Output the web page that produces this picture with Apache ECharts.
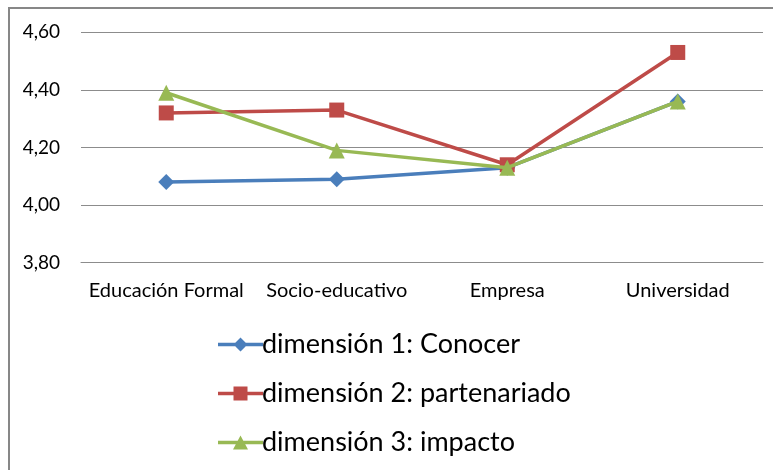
<!DOCTYPE html>
<html>
<head>
<meta charset="utf-8">
<script src="https://cdn.jsdelivr.net/npm/echarts@6/dist/echarts.min.js"></script>
<style>
  html, body { margin: 0; padding: 0; background: #fff; }
  #chart { width: 773px; height: 470px; }
</style>
</head>
<body>
<div id="chart"></div>
<script>
// Categorías del eje X
const categorias = ['Educación Formal', 'Socio-educativo', 'Empresa', 'Universidad'];

// Medias por dimensión
const dimension1 = [4.08, 4.09, 4.13, 4.36];
const dimension2 = [4.32, 4.33, 4.14, 4.53];
const dimension3 = [4.39, 4.19, 4.13, 4.36];

const nombres = ['dimensión 1: Conocer', 'dimensión 2: partenariado', 'dimensión 3: impacto'];
const colores = ['#4a7ebb', '#be4b48', '#98b954'];
const simbolos = ['diamond', 'rect', 'triangle'];

// Iconos de leyenda: trazo grueso con el marcador en el centro (caja 45x14)
const barra = 'M0 5.25 H45 V8.75 H0 Z ';
const iconos = [
  'path://' + barra + 'M22.5 0 L29.5 7 L22.5 14 L15.5 7 Z',
  'path://' + barra + 'M15.5 0 H29.5 V14 H15.5 Z',
  'path://' + barra + 'M22.5 0 L30 14 L15 14 Z'
];

const fuente = 'Lato, "Liberation Sans", sans-serif';

const chart = echarts.init(document.getElementById('chart'), null, { renderer: 'canvas' });

const datos = [dimension1, dimension2, dimension3];

chart.setOption({
  animation: false,
  backgroundColor: '#ffffff',
  graphic: [{
    type: 'rect',
    shape: { x: 9, y: 8, width: 800, height: 500 },
    style: { fill: 'none', stroke: '#878787', lineWidth: 2 },
    silent: true
  }],
  grid: { left: 81, right: 10, top: 32.3, bottom: 207.3 },
  xAxis: {
    type: 'category',
    data: categorias,
    boundaryGap: true,
    axisLine: { show: true, lineStyle: { color: '#8c8c8c', width: 1 } },
    axisTick: { show: false },
    axisLabel: { color: '#000', fontFamily: fuente, fontSize: 20, margin: 18, interval: 0 }
  },
  yAxis: {
    type: 'value',
    min: 3.8, max: 4.6, interval: 0.2,
    axisLine: { show: false },
    axisTick: { show: false },
    splitLine: { lineStyle: { color: '#8c8c8c', width: 1 } },
    axisLabel: {
      color: '#000', fontFamily: fuente, fontSize: 19, margin: 21,
      formatter: v => v.toFixed(2).replace('.', ',')
    }
  },
  legend: {
    orient: 'vertical',
    left: 213,
    top: 326,
    itemWidth: 45,
    itemHeight: 14,
    itemGap: 22,
    textStyle: { color: '#000', fontFamily: fuente, fontSize: 27, padding: [0, 0, 0, -6] },
    data: nombres.map((n, i) => ({ name: n, icon: iconos[i], itemStyle: { color: colores[i] } }))
  },
  series: datos.map((d, i) => ({
    name: nombres[i],
    type: 'line',
    data: d,
    symbol: simbolos[i],
    symbolSize: simbolos[i] === 'rect' ? 15 : 16,
    lineStyle: { color: colores[i], width: 3.5 },
    itemStyle: { color: colores[i] },
    z: 2 + i
  }))
});
</script>
</body>
</html>
